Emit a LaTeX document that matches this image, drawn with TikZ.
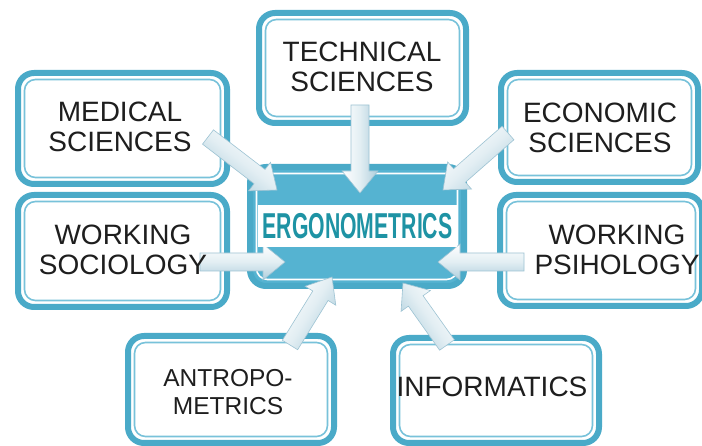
\documentclass[tikz,border=0pt]{standalone}
\usepackage{fontspec}
\setmainfont{Liberation Sans}
\usetikzlibrary{calc}

\definecolor{frame}{HTML}{4AAAC8}
\definecolor{frameinner}{HTML}{78C2DA}
\definecolor{corefill}{HTML}{55B3D1}
\definecolor{titleteal}{HTML}{1E93A4}
\definecolor{arrowblue}{HTML}{ADCEDC}
\definecolor{arrowedge}{HTML}{9DC3D3}
\definecolor{ink}{HTML}{1E1E1E}

\tikzset{
  field/.style={draw=frame, line width=6pt, fill=white, rounded corners=16pt,
    outer sep=0pt, inner sep=0pt,
    path picture={\draw[frameinner, line width=1.6pt, rounded corners=11pt]
      ([shift={(6.5pt,-6.5pt)}]path picture bounding box.north west) rectangle
      ([shift={(-6.5pt,6.5pt)}]path picture bounding box.south east);}},
  hub/.style={draw=frame, line width=6pt, fill=corefill, rounded corners=16pt,
    outer sep=0pt, inner sep=0pt,
    path picture={\draw[white, line width=1.6pt, rounded corners=11pt]
      ([shift={(6.5pt,-6.5pt)}]path picture bounding box.north west) rectangle
      ([shift={(-6.5pt,6.5pt)}]path picture bounding box.south east);}},
  caption/.style={font=\fontsize{28}{30}\selectfont, align=center, text=ink, inner sep=0pt},
  smallcaption/.style={font=\fontsize{24.5}{28}\selectfont, align=center, text=ink, inner sep=0pt},
  titlestrip/.style={fill=white, minimum width=199pt, minimum height=42pt, inner sep=0pt,
    text=titleteal, font=\bfseries\fontsize{36}{36}\selectfont},
  arrowbody/.style={draw=arrowedge, line width=0.6pt, top color=white,
    bottom color=arrowblue, middle color=white!65!arrowblue},
}

% block arrow from tail #1 to tip #2, shading rotated by #3
\newcommand\feedarrow[3]{%
  \coordinate (hb) at ($(#2)!22pt!(#1)$);
  \path[arrowbody, shading angle=#3]
    ($(#1)!9pt!90:(#2)$) -- ($(hb)!9pt!90:(#2)$) -- ($(hb)!18pt!90:(#2)$) --
    (#2) -- ($(hb)!18pt!-90:(#2)$) -- ($(hb)!9pt!-90:(#2)$) --
    ($(#1)!9pt!-90:(#2)$) -- cycle;}

\begin{document}
\begin{tikzpicture}[x=1pt,y=-1pt]
  \useasboundingbox[fill=white] (0,0) rectangle (702,446);

  % surrounding fields
  \node[field, minimum width=207pt, minimum height=110pt] (tech) at (362.5,68) {};
  \node[field, minimum width=209pt, minimum height=111pt] (med)  at (122.5,128.5) {};
  \node[field, minimum width=197pt, minimum height=109pt] (eco)  at (599.5,127.5) {};
  \node[field, minimum width=209pt, minimum height=112pt] (soc)  at (122.5,251) {};
  \node[field, minimum width=202pt, minimum height=111pt] (psi)  at (601,250.5) {};
  \node[field, minimum width=206pt, minimum height=107pt] (ant)  at (231,389.5) {};
  \node[field, minimum width=206pt, minimum height=105pt] (inf)  at (496,390.5) {};

  % central block
  \node[hub, minimum width=214pt, minimum height=119pt] (core) at (357,226.5) {};

  % arrow end points
  \coordinate (med-out) at (208,137);  \coordinate (med-in) at (277,190);
  \coordinate (tech-out) at (360,105); \coordinate (tech-in) at (360,193);
  \coordinate (eco-out) at (508,133);  \coordinate (eco-in) at (443,190);
  \coordinate (soc-out) at (200,262);  \coordinate (soc-in) at (285,262);
  \coordinate (psi-out) at (524,262);  \coordinate (psi-in) at (438,262);
  \coordinate (ant-out) at (290,345);  \coordinate (ant-in) at (332,277);
  \coordinate (inf-out) at (447,345);  \coordinate (inf-in) at (403,283);

  \feedarrow{med-out}{med-in}{-37.5}
  \feedarrow{tech-out}{tech-in}{90}
  \feedarrow{eco-out}{eco-in}{41}
  \feedarrow{soc-out}{soc-in}{0}
  \feedarrow{psi-out}{psi-in}{0}
  \feedarrow{ant-out}{ant-in}{58}
  \feedarrow{inf-out}{inf-in}{-55}

  % title strip
  \node[titlestrip] (title) at (357.5,226) {\scalebox{0.59}[1]{ERGONOMETRICS}};

  % field captions
  \node[caption] (tech-t) at (362,67)  {TECHNICAL\\SCIENCES};
  \node[caption] (med-t)  at (120,127) {MEDICAL\\SCIENCES};
  \node[caption] (eco-t)  at (600,128) {ECONOMIC\\SCIENCES};
  \node[caption] (soc-t)  at (123,250) {WORKING\\SOCIOLOGY};
  \node[caption] (psi-t)  at (617,250) {WORKING\\PSIHOLOGY};
  \node[smallcaption] (ant-t) at (228,392) {ANTROPO-\\METRICS};
  \node[caption] (inf-t)  at (492,387) {INFORMATICS};
\end{tikzpicture}
\end{document}
